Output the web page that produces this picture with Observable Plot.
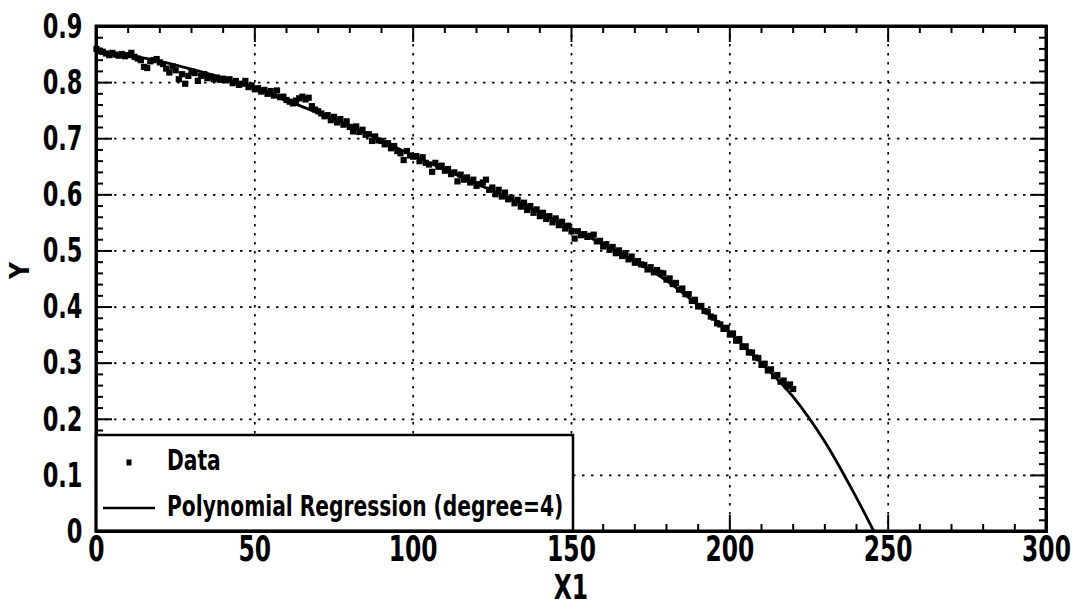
<!DOCTYPE html>
<html><head><meta charset="utf-8">
<script src="https://cdn.jsdelivr.net/npm/d3@7"></script>
<script src="https://cdn.jsdelivr.net/npm/@observablehq/plot@0.6"></script>
<style>
body{margin:0;background:#fff;}
#chart{position:relative;width:1072px;height:611px;}
</style></head><body><div id="chart"></div>
<script>
// Data series (x = 0,1,2,...,220)
const dataY = [
0.860,0.857,0.855,0.852,0.849,0.853,0.850,0.848,0.851,0.847,0.849,
0.853,0.846,0.843,0.840,0.828,0.826,0.838,0.840,0.842,0.836,
0.833,0.825,0.818,0.829,0.822,0.806,0.815,0.798,0.812,0.820,
0.817,0.803,0.812,0.815,0.808,0.811,0.806,0.809,0.805,0.807,
0.804,0.806,0.799,0.803,0.796,0.798,0.803,0.792,0.795,0.788,
0.790,0.784,0.787,0.780,0.785,0.777,0.786,0.774,0.775,0.769,
0.766,0.763,0.768,0.772,0.775,0.770,0.773,0.758,0.752,0.749,
0.745,0.740,0.742,0.733,0.739,0.729,0.735,0.725,0.731,0.721,
0.713,0.722,0.712,0.716,0.707,0.708,0.696,0.704,0.697,0.696,
0.690,0.692,0.683,0.687,0.678,0.674,0.662,0.678,0.670,0.668,
0.669,0.660,0.667,0.657,0.654,0.641,0.657,0.650,0.652,0.643,
0.646,0.637,0.640,0.624,0.636,0.627,0.631,0.622,0.627,0.616,
0.619,0.622,0.627,0.609,0.613,0.601,0.609,0.597,0.604,0.592,
0.595,0.585,0.591,0.579,0.586,0.573,0.580,0.568,0.574,0.562,
0.568,0.557,0.562,0.551,0.558,0.546,0.552,0.540,0.545,0.535,
0.522,0.535,0.528,0.530,0.525,0.527,0.529,0.517,0.518,0.508,
0.512,0.502,0.507,0.496,0.501,0.491,0.496,0.485,0.490,0.479,
0.482,0.476,0.475,0.467,0.471,0.462,0.466,0.461,0.460,0.449,
0.451,0.441,0.443,0.431,0.433,0.423,0.423,0.411,0.413,0.401,
0.402,0.393,0.392,0.383,0.381,0.371,0.369,0.361,0.363,0.351,
0.353,0.340,0.343,0.329,0.330,0.319,0.319,0.310,0.309,0.297,
0.299,0.287,0.289,0.277,0.279,0.267,0.269,0.259,0.262,0.254
];
const dataX = dataY.map((_, i) => i);

// Polynomial regression curve (degree 4)
const curveX = [0,10,20,30,40,50,60,70,80,90,100,110,120,130,140,150,160,170,180,190,200,210,220,230,240,245.5];
const curveY = [0.853,0.848,0.838,0.824,0.808,0.790,0.768,0.746,0.723,0.697,0.670,0.645,0.620,0.595,0.568,0.540,0.512,0.482,0.447,0.403,0.354,0.300,0.240,0.160,0.060,0];

// Ticks
const xTicks = [0,50,100,150,200,250,300];
const yTicks = [0,0.1,0.2,0.3,0.4,0.5,0.6,0.7,0.8,0.9];
const yTickLabels = ["0","0.1","0.2","0.3","0.4","0.5","0.6","0.7","0.8","0.9"];
const xGrid = [50,100,150,200,250];
const yGrid = [0.1,0.2,0.3,0.4,0.5,0.6,0.7,0.8];
const xMinor = d3.range(0, 301, 10).filter(v => v % 50 !== 0);
const yMinor = d3.range(0, 46, 1).filter(i => i % 5 !== 0).map(i => i / 50);

const legendLabels = ["Data", "Polynomial Regression (degree=4)"];

const points = dataX.map((x, i) => ({x, y: dataY[i]}));
const curve = curveX.map((x, i) => ({x, y: curveY[i]}));

const W = 1072, H = 611, mL = 96, mR = 26, mT = 26, mB = 80;
const FW = W - mL - mR, FH = H - mT - mB;
const MAJ = 16, MIN = 7;
const font = "'DejaVu Sans Condensed', 'DejaVu Sans', sans-serif";
const tk = {stroke: "black", strokeWidth: 2};

const chart = Plot.plot({
  width: W, height: H,
  marginLeft: mL, marginRight: mR, marginTop: mT, marginBottom: mB,
  x: {domain: [0, 300]},
  y: {domain: [0, 0.9]},
  style: {fontFamily: font, background: "white", color: "black"},
  marks: [
    Plot.gridX(xGrid, {stroke: "black", strokeOpacity: 1, strokeWidth: 1.7, strokeDasharray: "2.5,6.5"}),
    Plot.gridY(yGrid, {stroke: "black", strokeOpacity: 1, strokeWidth: 1.7, strokeDasharray: "2.5,6.5"}),
    Plot.dot(points, {x: "x", y: "y", symbol: "square", r: 3.5, fill: "black", stroke: "none"}),
    Plot.line(curve, {x: "x", y: "y", stroke: "black", strokeWidth: 2.8, curve: "catmull-rom"}),
    Plot.tickX(xTicks, {x: d => d, insetTop: FH - MAJ, ...tk}),
    Plot.tickX(xTicks, {x: d => d, insetBottom: FH - MAJ, ...tk}),
    Plot.tickX(xMinor, {x: d => d, insetTop: FH - MIN, ...tk}),
    Plot.tickX(xMinor, {x: d => d, insetBottom: FH - MIN, ...tk}),
    Plot.tickY(yTicks, {y: d => d, insetRight: FW - MAJ, ...tk}),
    Plot.tickY(yTicks, {y: d => d, insetLeft: FW - MAJ, ...tk}),
    Plot.tickY(yMinor, {y: d => d, insetRight: FW - MIN, ...tk}),
    Plot.tickY(yMinor, {y: d => d, insetLeft: FW - MIN, ...tk}),
    Plot.axisX(xTicks, {tickSize: 0, tickPadding: 8, fontSize: 26, fontWeight: "bold", label: null}),
    Plot.axisY(yTicks, {tickSize: 0, tickPadding: 14, fontSize: 25, fontWeight: "bold", label: null,
      tickFormat: d => yTickLabels[yTicks.indexOf(d)]}),
    Plot.frame({stroke: "black", strokeWidth: 3})
  ]
});

document.getElementById("chart").appendChild(chart);
const svg = d3.select(chart);

// stretch text glyphs vertically (about their own centre) like the reference
function stretch(t, s) {
  let b;
  try { b = t.getBBox(); } catch (e) { return; }
  const cy = b.y + b.height / 2;
  if (!isFinite(cy)) return;
  const tr = t.getAttribute("transform") || "";
  t.setAttribute("transform", `${tr} translate(0,${cy.toFixed(2)}) scale(1,${s}) translate(0,${(-cy).toFixed(2)})`);
}
Array.from(chart.querySelectorAll("text")).forEach(t => stretch(t, 1.38));

// axis titles
svg.append("text").text("X1")
  .attr("x", (mL + W - mR) / 2).attr("y", 589)
  .attr("text-anchor", "middle").attr("dominant-baseline", "middle")
  .attr("font-family", font).attr("font-weight", "bold").attr("font-size", 26)
  .each(function(){ stretch(this, 1.3); });
svg.append("text").text("Y")
  .attr("transform", `translate(21,${(mT + H - mB) / 2 - 8}) rotate(-90)`)
  .attr("text-anchor", "middle").attr("dominant-baseline", "middle")
  .attr("font-family", font).attr("font-weight", "bold").attr("font-size", 26);

// legend (lower-left, inside axes)
const lg = svg.append("g");
const lx = mL, ly = 435, lw = 477, lh = (H - mB) - ly;
lg.append("rect").attr("x", lx).attr("y", ly).attr("width", lw).attr("height", lh)
  .attr("fill", "white").attr("stroke", "black").attr("stroke-width", 2.5);
lg.append("rect").attr("x", 126.5).attr("y", 459.5).attr("width", 5).attr("height", 6).attr("fill", "black");
lg.append("line").attr("x1", 103).attr("x2", 155).attr("y1", 508).attr("y2", 508)
  .attr("stroke", "black").attr("stroke-width", 2.6);
legendLabels.forEach((label, i) => {
  lg.append("text").text(label)
    .attr("x", 167).attr("y", i === 0 ? 462 : 508)
    .attr("text-anchor", "start").attr("dominant-baseline", "middle")
    .attr("font-family", font).attr("font-weight", "bold").attr("font-size", 22.5)
    .each(function(){ stretch(this, 1.25); });
});
// re-draw frame edge over legend border
svg.append("rect").attr("x", mL).attr("y", mT).attr("width", FW).attr("height", FH)
  .attr("fill", "none").attr("stroke", "black").attr("stroke-width", 3);
</script>
</body></html>
